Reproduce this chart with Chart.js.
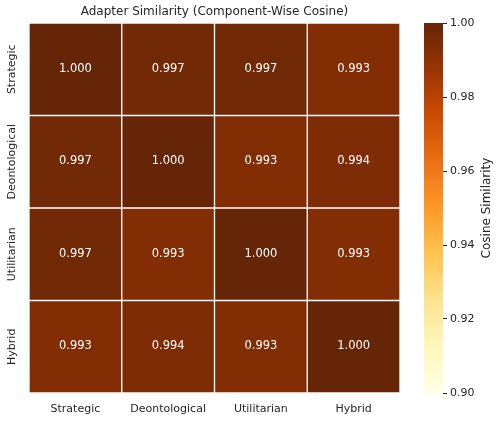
<!DOCTYPE html>
<html><head><meta charset="utf-8">
<script src="https://cdn.jsdelivr.net/npm/chart.js@4.4.0/dist/chart.umd.min.js"></script>
<style>
html,body{margin:0;padding:0;background:#fff;width:500px;height:422px;overflow:hidden}
#wrap{position:relative;width:500px;height:422px}
canvas{position:absolute;left:0;top:0}
</style></head><body>
<div id="wrap"><canvas id="hm" width="500" height="422"></canvas><canvas id="cb" width="500" height="422"></canvas></div>
<script>
// ---- data ----
const categories = ['Strategic', 'Deontological', 'Utilitarian', 'Hybrid'];
const rowStrategic     = [1.000, 0.997, 0.997, 0.993];
const rowDeontological = [0.997, 1.000, 0.993, 0.994];
const rowUtilitarian   = [0.997, 0.993, 1.000, 0.993];
const rowHybrid        = [0.993, 0.994, 0.993, 1.000];
const colorbarTicks = [0.90, 0.92, 0.94, 0.96, 0.98, 1.00];
const vmin = 0.90, vmax = 1.00;
const chartTitle = 'Adapter Similarity (Component-Wise Cosine)';
const colorbarLabel = 'Cosine Similarity';

const matrix = [rowStrategic, rowDeontological, rowUtilitarian, rowHybrid];

// ---- style ----
const FONT = 'DejaVu Sans';
const TXT = '#262626';
const YlOrBr = ['#ffffe5','#fff7bc','#fee391','#fec44f','#fe9929','#ec7014','#cc4c02','#993404','#662506'];
function hex2rgb(h){return [parseInt(h.slice(1,3),16),parseInt(h.slice(3,5),16),parseInt(h.slice(5,7),16)];}
function cmap(v){
  let t = (v - vmin) / (vmax - vmin); t = Math.max(0, Math.min(1, t));
  const n = YlOrBr.length - 1, p = t * n, i = Math.min(Math.floor(p), n - 1), f = p - i;
  const a = hex2rgb(YlOrBr[i]), b = hex2rgb(YlOrBr[i+1]);
  return 'rgb(' + a.map((c,k)=>Math.round(c + (b[k]-c)*f)).join(',') + ')';
}

const labelPlugin = {
  id: 'labels',
  afterDatasetsDraw(chart){
    const ctx = chart.ctx, a = chart.chartArea;
    ctx.save();
    ctx.font = '11.5px "' + FONT + '"';
    ctx.fillStyle = '#ffffff';
    ctx.textAlign = 'center'; ctx.textBaseline = 'middle';
    chart.data.datasets.forEach((ds, di) => {
      chart.getDatasetMeta(di).data.forEach((bar, i) => {
        const p = bar.getCenterPoint();
        ctx.fillText(ds.values[i].toFixed(3), p.x, p.y - 0.5);
      });
    });
    const ys = chart.scales.y;
    ctx.font = '11px "' + FONT + '"';
    ctx.fillStyle = TXT;
    categories.forEach((c, r) => {
      const y = ys.getPixelForValue(r + 0.5);
      ctx.save(); ctx.translate(12.5, y); ctx.rotate(-Math.PI/2);
      ctx.fillText(c, 0, 0); ctx.restore();
    });
    // title centred over the heatmap
    ctx.font = '12px "' + FONT + '"';
    ctx.fillText(chartTitle, (a.left + a.right) / 2, 12);
    ctx.restore();
  }
};

new Chart(document.getElementById('hm'), {
  type: 'bar',
  data: {
    labels: categories,
    datasets: matrix.map((row, r) => ({
      label: categories[r],
      data: row.map(() => [r, r + 1]),
      values: row,
      backgroundColor: row.map(v => cmap(v)),
      borderColor: '#ffffff', borderWidth: 1, borderSkipped: false,
      barPercentage: 1, categoryPercentage: 1, grouped: false
    }))
  },
  options: {
    responsive: false, animation: false,
    layout: { padding: { left: 0, right: 100, top: 23, bottom: 0 } },
    plugins: { legend: { display: false }, tooltip: { enabled: false }, title: { display: false } },
    scales: {
      x: { type: 'category', offset: true,
        grid: { display: false, drawTicks: false }, border: { display: false },
        ticks: { color: TXT, font: { family: FONT, size: 11 }, padding: 10, maxRotation: 0 },
        afterFit(s){ s.height = 29; } },
      y: { type: 'linear', min: 0, max: 4, reverse: true,
        ticks: { display: false }, grid: { display: false, drawTicks: false }, border: { display: false },
        afterFit(s){ s.width = 29; } }
    }
  },
  plugins: [labelPlugin]
});

const cbTitlePlugin = {
  id: 'cbtitle',
  afterDraw(chart){
    const a = chart.chartArea, ctx = chart.ctx;
    ctx.save();
    ctx.font = '12px "' + FONT + '"'; ctx.fillStyle = TXT;
    ctx.textAlign = 'center'; ctx.textBaseline = 'middle';
    ctx.translate(487, (a.top + a.bottom) / 2); ctx.rotate(-Math.PI/2);
    ctx.fillText(colorbarLabel, 0, 0);
    ctx.restore();
  }
};

new Chart(document.getElementById('cb'), {
  type: 'bar',
  data: {
    labels: [''],
    datasets: [{
      data: [[vmin, vmax]],
      backgroundColor(context){
        const chart = context.chart, a = chart.chartArea;
        if (!a) return null;
        const g = chart.ctx.createLinearGradient(0, a.bottom, 0, a.top);
        YlOrBr.forEach((c, i) => g.addColorStop(i / (YlOrBr.length - 1), c));
        return g;
      },
      borderWidth: 0, barPercentage: 1, categoryPercentage: 1
    }]
  },
  options: {
    responsive: false, animation: false,
    layout: { padding: { left: 424, top: 23, bottom: 29, right: 0 } },
    plugins: { legend: { display: false }, tooltip: { enabled: false } },
    scales: {
      x: { display: false },
      y: { position: 'right', min: vmin, max: vmax,
        afterBuildTicks(s){ s.ticks = colorbarTicks.map(v => ({ value: v })); },
        ticks: { color: TXT, font: { family: FONT, size: 11 }, padding: 3, callback: v => Number(v).toFixed(2) },
        grid: { drawOnChartArea: false, drawTicks: true, tickLength: 4, tickColor: TXT, tickWidth: 1 },
        border: { display: false },
        afterFit(s){ s.width = 57; } }
    }
  },
  plugins: [cbTitlePlugin]
});
</script>
</body></html>
